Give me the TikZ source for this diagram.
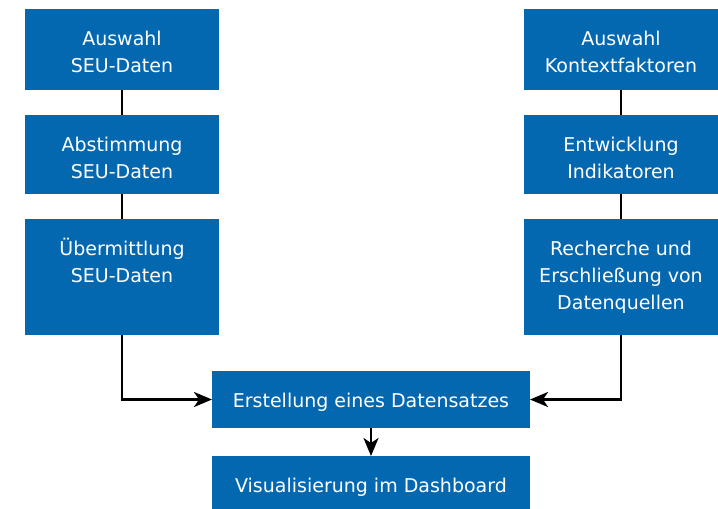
\documentclass[tikz,border=0pt]{standalone}
\usepackage{fontspec}
\setmainfont{DejaVu Sans}
\usetikzlibrary{arrows.meta,calc}
\definecolor{boxblue}{HTML}{0468B1}
\begin{document}
\begin{tikzpicture}[x=1pt,y=-1pt,
 box/.style={fill=boxblue,draw=none,inner sep=0pt,outer sep=0pt,minimum width=194pt,anchor=north west},
 wbox/.style={fill=boxblue,draw=none,inner sep=0pt,outer sep=0pt,minimum width=318pt,anchor=north west},
 txt/.style={text=white,align=center,inner sep=0pt,anchor=north,font=\fontsize{19}{27}\selectfont},
 conn/.style={line width=2.6pt,black},
 arr/.style={conn,-{Stealth[length=18pt,width=15pt,inset=5pt]}}]
\useasboundingbox (0,0) rectangle (718,509);
% left column
\node[box,minimum height=81pt] (l1) at (25,9) {};
\node[box,minimum height=79pt] (l2) at (25,115) {};
\node[box,minimum height=116pt] (l3) at (25,219) {};
% right column
\node[box,minimum height=81pt] (r1) at (524,9) {};
\node[box,minimum height=79pt] (r2) at (524,115) {};
\node[box,minimum height=116pt] (r3) at (524,219) {};
% bottom
\node[wbox,minimum height=57pt] (e) at (212,371) {};
\node[wbox,minimum height=53pt] (v) at (212,456) {};
% texts
\node[txt] (l1t) at ([yshift=-17pt]l1.north) {\strut Auswahl\\SEU-Daten};
\node[txt] (l2t) at ([yshift=-17pt]l2.north) {\strut Abstimmung\\SEU-Daten};
\node[txt] (l3t) at ([yshift=-17pt]l3.north) {\strut Übermittlung\\SEU-Daten};
\node[txt] (r1t) at ([yshift=-17pt]r1.north) {\strut Auswahl\\Kontextfaktoren};
\node[txt] (r2t) at ([yshift=-17pt]r2.north) {\strut Entwicklung\\Indikatoren};
\node[txt] (r3t) at ([yshift=-17pt]r3.north) {\strut Recherche und\\Erschließung von\\Datenquellen};
\node[txt] (et) at ([yshift=-17pt]e.north) {\strut Erstellung eines Datensatzes};
\node[txt] (vt) at ([yshift=-17pt]v.north) {\strut Visualisierung im Dashboard};
% connectors
\draw[conn] (l1.south) -- (l2.north);
\draw[conn] (l2.south) -- (l3.north);
\draw[conn] (r1.south) -- (r2.north);
\draw[conn] (r2.south) -- (r3.north);
\draw[arr] (l3.south) |- (e.west);
\draw[arr] (r3.south) |- (e.east);
\draw[arr] (e.south) -- (v.north);
\end{tikzpicture}
\end{document}
